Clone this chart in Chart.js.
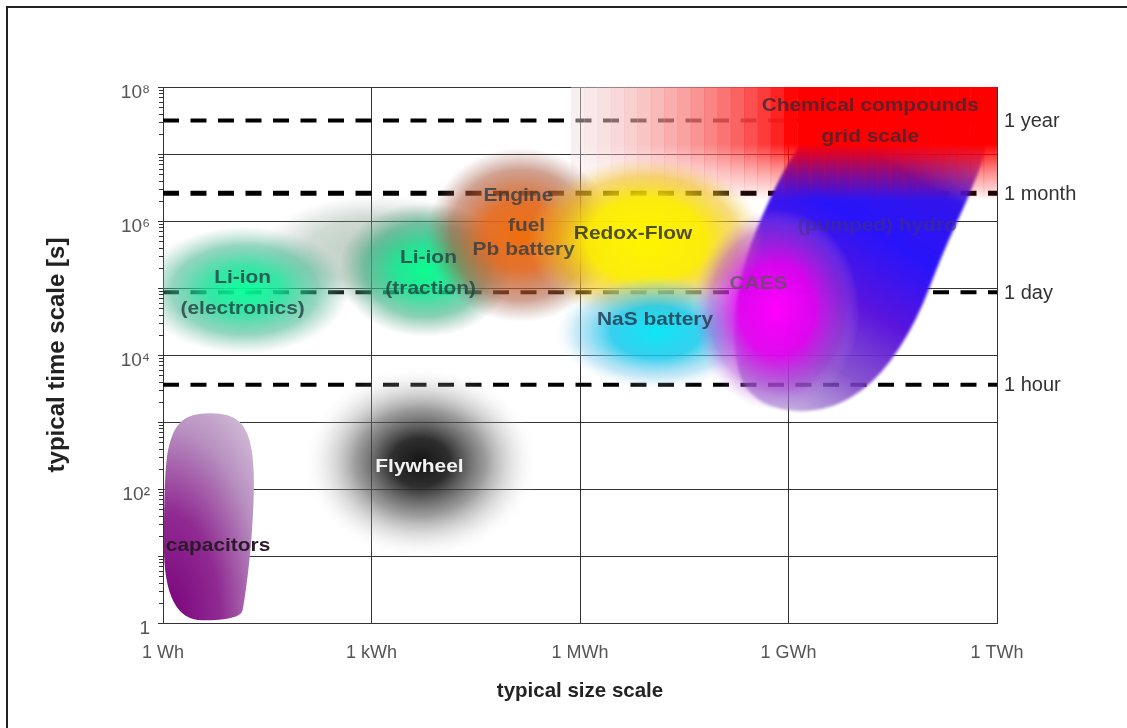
<!DOCTYPE html>
<html>
<head>
<meta charset="utf-8">
<script src="https://cdn.jsdelivr.net/npm/chart.js@4/dist/chart.umd.min.js"></script>
<style>
html,body{margin:0;padding:0;background:#fff;}
#wrap{width:1127px;height:728px;}
</style>
</head>
<body>
<div id="wrap"><canvas id="c" width="1127" height="728"></canvas></div>
<script>
/* storage technologies: size vs time scale */
const sizeTicks=[1,1e3,1e6,1e9,1e12];
const sizeLabels=['1 Wh','1 kWh','1 MWh','1 GWh','1 TWh'];
const timeTicks=[1,10,100,1e3,1e4,1e5,1e6,1e7,1e8];
const timeLabels=['1','','10²','','10⁴','','10⁶','','10⁸'];

const markerNames=['1 year','1 month','1 day','1 hour'];
const markerSeconds=[31536000,2592000,86400,3600];

// fuzzy regions: centre (Wh, s) and half-spread in decades
const blobNames=['Li-ion halo','Li-ion (electronics)','Li-ion (traction)','Engine fuel / Pb battery','Redox-Flow','NaS battery','CAES','Flywheel'];
const blobSize=[1350,15,6000,1.4e5,8.9e6,1.26e7,6.7e8,5100];
const blobTime=[3.7e5,9.3e4,1.86e5,6.2e5,5.2e5,2.2e4,4.7e4,250];
const blobSizeSpread=[1.73,1.5,1.25,1.35,1.7,1.45,1.2,1.7];
const blobTimeSpread=[0.82,0.95,1.0,1.3,1.22,0.85,1.5,1.45];

// outlined regions
const hydroSize=[4.9e9,8.5e11,7.2e11,3.7e11,1.6e11,7.1e10,2.2e10,5.9e9,1.55e9,4.1e8,1.9e8,1.6e8,2.1e8,4.1e8,1.1e9];
const hydroTime=[7.6e7,7.6e7,1.15e7,2.0e6,3.1e5,3.3e4,5.0e3,1.8e3,1.35e3,1.8e3,4.3e3,2.3e4,1.9e5,1.2e6,9.8e6];
const capSize=[1.03,1.03,1.35,2.45,9.3,17,21,19,15,13];
const capTime=[1.1,190,760,1350,1350,760,190,17,2.2,1.1];
const chemSize=[7.4e5,1e12];
const chemTime=[2e6,1e8];

const labelText=['Chemical compounds','grid scale','Engine','fuel','Pb battery','Redox-Flow','Li-ion','(traction)','Li-ion','(electronics)','NaS battery','CAES','(pumped) hydro','Flywheel','capacitors'];
const labelSize=[1.5e10,1.5e10,1.3e5,1.7e5,1.55e5,5.8e6,6600,7100,14,14,1.2e7,3.7e8,1.9e10,4900,6.2];
const labelTime=[5.2e7,1.8e7,2.4e6,8.5e5,3.7e5,6.4e5,2.8e5,9.7e4,1.4e5,4.9e4,3.3e4,1.15e5,8.5e5,213,14];

// styles
const blobStops=[
  [[0,'rgba(110,150,125,0.5)'],[0.6,'rgba(120,150,130,0.35)'],[1,'rgba(140,160,150,0)']],
  [[0,'rgba(0,255,150,0.95)'],[0.35,'rgba(20,225,150,0.85)'],[0.7,'rgba(60,180,140,0.55)'],[1,'rgba(110,180,160,0)']],
  [[0,'rgba(0,255,140,0.95)'],[0.35,'rgba(10,230,140,0.85)'],[0.7,'rgba(40,170,120,0.55)'],[1,'rgba(90,150,120,0)']],
  [[0,'rgba(240,110,10,1)'],[0.4,'rgba(225,100,25,0.9)'],[0.75,'rgba(170,85,55,0.55)'],[1,'rgba(160,110,100,0)']],
  [[0,'rgba(255,245,0,1)'],[0.5,'rgba(252,235,0,0.95)'],[0.78,'rgba(240,190,20,0.55)'],[1,'rgba(240,200,80,0)']],
  [[0,'rgba(0,230,245,0.95)'],[0.45,'rgba(20,200,235,0.85)'],[0.8,'rgba(120,200,235,0.4)'],[1,'rgba(200,230,245,0)']],
  [[0,'rgba(255,0,255,1)'],[0.45,'rgba(230,0,240,0.9)'],[0.8,'rgba(170,60,210,0.45)'],[1,'rgba(200,140,230,0)']],
  [[0,'rgba(20,20,20,1)'],[0.25,'rgba(35,35,35,0.95)'],[0.55,'rgba(90,90,90,0.6)'],[0.8,'rgba(170,170,170,0.25)'],[1,'rgba(255,255,255,0)']]
];
const labelColors=['rgba(60,40,50,0.8)','rgba(60,40,50,0.8)','rgba(50,60,70,0.8)','rgba(50,60,70,0.8)','rgba(50,60,70,0.8)','rgba(50,50,40,0.85)',
  'rgba(40,70,70,0.85)','rgba(40,70,70,0.85)','rgba(40,70,70,0.85)','rgba(40,70,70,0.85)','rgba(40,60,80,0.85)','rgba(80,90,80,0.7)','rgba(70,50,110,0.55)','#f2f2f2','#2a1a2a'];
const markerWidth=[4,5,4,4];
const FONT='"Liberation Sans", Arial, sans-serif';

function smoothPath(ctx,pts){
  const n=pts.length;
  const mid=(a,b)=>[(a[0]+b[0])/2,(a[1]+b[1])/2];
  const s=mid(pts[n-1],pts[0]);
  ctx.beginPath();ctx.moveTo(s[0],s[1]);
  for(let i=0;i<n;i++){const m=mid(pts[i],pts[(i+1)%n]);ctx.quadraticCurveTo(pts[i][0],pts[i][1],m[0],m[1]);}
  ctx.closePath();
}
function drawBlob(ctx,x,y,i){
  const cx=x.getPixelForValue(blobSize[i]),cy=y.getPixelForValue(blobTime[i]);
  const rx=x.getPixelForValue(blobSize[i]*10**blobSizeSpread[i])-cx;
  const ry=cy-y.getPixelForValue(blobTime[i]*10**blobTimeSpread[i]);
  ctx.save();ctx.translate(cx,cy);ctx.scale(rx,ry);
  const g=ctx.createRadialGradient(0,0,0,0,0,1);
  blobStops[i].forEach(([o,c])=>g.addColorStop(o,c));
  ctx.fillStyle=g;ctx.beginPath();ctx.arc(0,0,1,0,Math.PI*2);ctx.fill();
  ctx.restore();
}
function drawChem(ctx,x,y){
  const x0=x.getPixelForValue(chemSize[0]),x1=x.getPixelForValue(chemSize[1]);
  const y0=y.getPixelForValue(chemTime[1]),y1=y.getPixelForValue(chemTime[0]);
  const strips=32,w=(x1-x0)/strips;
  for(let k=0;k<strips;k++){
    const f=Math.min(1,(k+0.5)/(strips*0.52));
    const gb=Math.round(225*Math.pow(1-f,0.8));
    const a=0.45+0.55*f;
    const g=ctx.createLinearGradient(0,y0,0,y1);
    const c=`${Math.round(240+15*f)},${gb},${gb}`;
    g.addColorStop(0,`rgba(${c},${a})`);
    g.addColorStop(0.5,`rgba(${c},${a})`);
    g.addColorStop(0.75,`rgba(${c},${a*0.45})`);
    g.addColorStop(1,`rgba(${c},0)`);
    ctx.fillStyle=g;ctx.fillRect(x0+k*w,y0,w+0.5,y1-y0);
  }
}
function drawHydro(ctx,x,y){
  const pts=hydroSize.map((v,i)=>[x.getPixelForValue(v),y.getPixelForValue(hydroTime[i])]);
  const b=pts[8],t=pts[1];
  const g=ctx.createLinearGradient(b[0],b[1],t[0],t[1]);
  g.addColorStop(0,'rgba(150,110,200,0.6)');
  g.addColorStop(0.15,'rgba(120,60,200,0.88)');
  g.addColorStop(0.33,'rgba(90,20,220,1)');
  g.addColorStop(0.52,'rgba(40,20,250,1)');
  g.addColorStop(0.7,'rgba(50,20,235,1)');
  g.addColorStop(0.85,'rgba(90,20,200,0.6)');
  g.addColorStop(1,'rgba(120,20,160,0.3)');
  ctx.save();ctx.filter='blur(1.5px)';
  smoothPath(ctx,pts);ctx.fillStyle=g;ctx.fill();
  ctx.restore();
}
function drawCaps(ctx,x,y){
  const pts=capSize.map((v,i)=>[x.getPixelForValue(v),y.getPixelForValue(capTime[i])]);
  const ox=pts[0][0],oy=pts[0][1];
  const sx=pts[6][0]-ox,sy=oy-pts[3][1];
  ctx.save();
  smoothPath(ctx,pts);ctx.clip();
  ctx.translate(ox,oy);ctx.scale(sx*1.55,sy*1.3);
  const g=ctx.createRadialGradient(0,0,0,0,0,1);
  g.addColorStop(0,'#78007a');g.addColorStop(0.4,'#902a92');g.addColorStop(0.72,'#b890c0');g.addColorStop(1,'#d8c8de');
  ctx.fillStyle=g;ctx.fillRect(-0.1,-1.1,1.3,1.3);
  ctx.restore();
}

const regions={
  id:'regions',
  afterDatasetsDraw(chart){
    const {ctx,chartArea:a,scales:{x,y}}=chart;
    ctx.save();
    ctx.beginPath();ctx.rect(a.left,a.top,a.right-a.left,a.bottom-a.top);ctx.clip();
    [0,1,2].forEach(i=>drawBlob(ctx,x,y,i));
    drawHydro(ctx,x,y);
    drawChem(ctx,x,y);
    [3,4,5,6,7].forEach(i=>drawBlob(ctx,x,y,i));
    drawCaps(ctx,x,y);
    ctx.textAlign='center';ctx.textBaseline='middle';ctx.font='bold 18.5px '+FONT;
    labelText.forEach((t,i)=>{
      ctx.save();
      ctx.translate(x.getPixelForValue(labelSize[i]),y.getPixelForValue(labelTime[i]));
      ctx.scale(1.13,1);
      ctx.fillStyle=labelColors[i];
      ctx.fillText(t,0,0);
      ctx.restore();
    });
    ctx.restore();
  },
  afterDraw(chart){
    const {ctx,chartArea:a,scales:{y}}=chart;
    ctx.save();
    // minor ticks on time axis
    ctx.strokeStyle='#333';ctx.lineWidth=1;
    for(let e=0;e<8;e++)for(let k=2;k<10;k++){
      const py=Math.round(y.getPixelForValue(k*10**e))+0.5;
      ctx.beginPath();ctx.moveTo(a.left-4,py);ctx.lineTo(a.left+1,py);ctx.stroke();
    }
    // marker names
    ctx.fillStyle='#333';ctx.font='20px '+FONT;ctx.textAlign='left';ctx.textBaseline='middle';
    markerNames.forEach((n,i)=>ctx.fillText(n,a.right+7,y.getPixelForValue(markerSeconds[i])+1));
    // outer frame
    ctx.strokeStyle='#222';ctx.lineWidth=2;
    ctx.beginPath();ctx.moveTo(7,chart.height);ctx.lineTo(7,7);ctx.lineTo(chart.width,7);ctx.stroke();
    ctx.restore();
  }
};

const markerSets=markerNames.map((n,i)=>({
  type:'line',label:n,showLine:true,
  data:[{x:sizeTicks[0],y:markerSeconds[i]},{x:sizeTicks[sizeTicks.length-1],y:markerSeconds[i]}],
  borderColor:'#000',borderWidth:markerWidth[i],borderDash:[16,11.5],pointRadius:0,fill:false
}));

new Chart(document.getElementById('c'),{
  type:'scatter',
  data:{datasets:markerSets},
  options:{
    responsive:false,animation:false,devicePixelRatio:1,
    layout:{padding:{left:43,top:87,right:130,bottom:0}},
    plugins:{legend:{display:false},tooltip:{enabled:false}},
    scales:{
      x:{
        type:'logarithmic',min:1,max:1e12,
        afterBuildTicks:s=>{s.ticks=sizeTicks.map(v=>({value:v}));},
        afterFit:s=>{s.height=105;},
        grid:{color:'#333',lineWidth:1,drawTicks:false},
        border:{color:'#333',width:1},
        ticks:{autoSkip:false,maxRotation:0,padding:19,color:'#555',font:{family:FONT,size:18},callback:(v,i)=>sizeLabels[i]},
        title:{display:true,text:'typical size scale',color:'#222',font:{family:FONT,size:20.5,weight:'bold'},padding:{top:0,bottom:24}}
      },
      y:{
        type:'logarithmic',min:1,max:1e8,
        afterBuildTicks:s=>{s.ticks=timeTicks.map(v=>({value:v}));},
        afterFit:s=>{s.width=120;},
        grid:{color:'#333',lineWidth:1,drawTicks:true,tickLength:5},
        border:{color:'#333',width:1},
        ticks:{autoSkip:false,padding:8,labelOffset:6,color:'#555',font:{family:FONT,size:19},callback:(v,i)=>timeLabels[i]},
        title:{display:true,text:'typical time scale [s]',color:'#222',font:{family:FONT,size:24,weight:'bold'},padding:{top:0,bottom:0}}
      }
    }
  },
  plugins:[regions]
});
</script>
</body>
</html>
